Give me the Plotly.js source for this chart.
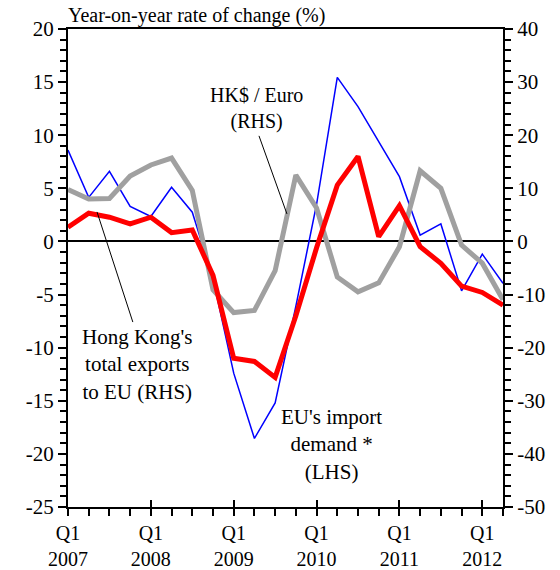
<!DOCTYPE html>
<html>
<head>
<meta charset="utf-8">
<script src="https://cdn.plot.ly/plotly-3.0.1.min.js"></script>
<style>html,body{margin:0;padding:0;background:#fff;}#chart{width:560px;height:570px;}</style>
</head>
<body>
<div id="chart"></div>
<script>
// Quarters Q1 2007 .. Q2 2012
var years = [2007, 2008, 2009, 2010, 2011, 2012];
var quarterNames = ['Q1', 'Q2', 'Q3', 'Q4'];
var nQuarters = 22;

// Axis tick labels
var leftTickVals = [-25, -20, -15, -10, -5, 0, 5, 10, 15, 20];
var leftTickText = ['-25', '-20', '-15', '-10', '-5', '0', '5', '10', '15', '20'];
var rightTickVals = [-50, -40, -30, -20, -10, 0, 10, 20, 30, 40];
var rightTickText = ['-50', '-40', '-30', '-20', '-10', '0', '10', '20', '30', '40'];

// EU's import demand * (LHS, %)
var euImportDemand = [1.34, 2.66, 2.28, 1.65, 2.28, 0.83, 1.08, -3.2, -11.0, -11.3, -12.8, -7.0, -0.6, 5.3, 8.0, 0.45, 3.37, -0.49, -2.06, -4.2, -4.8, -6.0];
// Hong Kong's total exports to EU (RHS, %)
var hkExportsEU = [17.2, 8.3, 13.2, 6.6, 4.7, 10.2, 5.5, -7.0, -24.8, -37.1, -30.4, -12.2, 7.0, 30.9, 25.4, 18.8, 12.2, 1.2, 3.3, -9.3, -2.4, -7.9];
// HK$ / Euro (RHS, %)
var hkdEuro = [9.8, 8.0, 8.1, 12.3, 14.4, 15.7, 9.6, -9.1, -13.4, -13.0, -5.5, 12.5, 6.3, -6.7, -9.5, -7.8, -1.0, 13.3, 10.0, -0.7, -4.1, -11.0];

var xIdx = [], tickText = [], q1Vals = [];
for (var i = 0; i < nQuarters; i++) {
  xIdx.push(i);
  var q = i % 4, y = years[Math.floor(i / 4)];
  if (q === 0) { tickText.push(quarterNames[q] + '<br>' + y); q1Vals.push(i); }
  else tickText.push('');
}

var FONT = 'Liberation Serif, Times New Roman, serif';

var traces = [
  {x: xIdx, y: hkExportsEU, xaxis: 'x', yaxis: 'y', mode: 'lines', line: {color: '#0000FF', width: 1.5}, hoverinfo: 'skip'},
  {x: xIdx, y: hkdEuro, xaxis: 'x', yaxis: 'y', mode: 'lines', line: {color: '#A0A0A0', width: 5}, hoverinfo: 'skip'},
  {x: xIdx, y: euImportDemand, xaxis: 'x2', yaxis: 'y2', mode: 'lines', line: {color: '#FF0000', width: 5}, hoverinfo: 'skip'}
];

var layout = {
  width: 560, height: 570,
  margin: {l: 68, r: 57, t: 29, b: 63},
  paper_bgcolor: '#fff', plot_bgcolor: '#fff',
  showlegend: false,
  font: {family: FONT, size: 20, color: '#000'},
  title: {text: 'Year-on-year rate of change (%)', x: 0, xref: 'paper', xanchor: 'left', y: 1 - 15 / 570, yref: 'container', yanchor: 'middle', font: {family: FONT, size: 20, color: '#000'}},
  xaxis: {
    range: [0, 21], tickmode: 'array', tickvals: xIdx, ticktext: tickText,
    ticks: 'outside', ticklen: 7, tickwidth: 2, tickcolor: '#000',
    showline: true, linewidth: 2, linecolor: '#000', mirror: true,
    showgrid: false, zeroline: false, tickfont: {family: FONT, size: 20, color: '#000'}, fixedrange: true
  },
  xaxis2: {
    range: [0, 21], overlaying: 'x', anchor: 'y', side: 'bottom', tickmode: 'array', tickvals: q1Vals,
    ticks: 'inside', ticklen: 7, tickwidth: 2, tickcolor: '#000', showticklabels: false,
    showline: false, showgrid: false, zeroline: false, fixedrange: true
  },
  yaxis: {
    range: [-50, 40], side: 'right', tickmode: 'array', tickvals: rightTickVals, ticktext: rightTickText,
    ticks: 'outside', ticklen: 8, tickwidth: 2, tickcolor: '#000',
    minor: {tickmode: 'linear', tick0: 0, dtick: 2, ticks: 'outside', ticklen: 6, tickwidth: 2, tickcolor: '#000', showgrid: false},
    showline: true, linewidth: 2, linecolor: '#000',
    showgrid: false, zeroline: true, zerolinecolor: '#000', zerolinewidth: 2,
    tickfont: {family: FONT, size: 21, color: '#000'}, fixedrange: true
  },
  yaxis2: {
    range: [-25, 20], side: 'left', overlaying: 'y', tickmode: 'array', tickvals: leftTickVals, ticktext: leftTickText,
    ticks: 'outside', ticklen: 8, tickwidth: 2, tickcolor: '#000',
    minor: {tickmode: 'linear', tick0: 0, dtick: 1, ticks: 'outside', ticklen: 6, tickwidth: 2, tickcolor: '#000', showgrid: false},
    showline: true, linewidth: 2, linecolor: '#000',
    showgrid: false, zeroline: false,
    tickfont: {family: FONT, size: 21, color: '#000'}, fixedrange: true
  },
  annotations: [
    {text: 'HK$ / Euro<br>(RHS)', xref: 'x', yref: 'y2', x: 9.11, y: 12.55, showarrow: false, font: {family: FONT, size: 20, color: '#000'}, align: 'center'},
    {text: "Hong Kong's<br>total exports<br>to EU (RHS)", xref: 'x', yref: 'y2', x: 3.34, y: -11.54, showarrow: false, font: {family: FONT, size: 21, color: '#000'}, align: 'center'},
    {text: "EU's import<br>demand *<br>(LHS)", xref: 'x', yref: 'y2', x: 12.72, y: -19.08, showarrow: false, font: {family: FONT, size: 21, color: '#000'}, align: 'center'}
  ],
  shapes: [
    {type: 'line', xref: 'x', yref: 'y2', x0: 9.22, y0: 9.94, x1: 10.57, y1: 2.59, line: {color: '#000', width: 1}},
    {type: 'line', xref: 'x', yref: 'y2', x0: 1.40, y0: 2.78, x1: 3.13, y1: -7.59, line: {color: '#000', width: 1}}
  ]
};

Plotly.newPlot('chart', traces, layout, {staticPlot: true, displayModeBar: false});
</script>
</body>
</html>
